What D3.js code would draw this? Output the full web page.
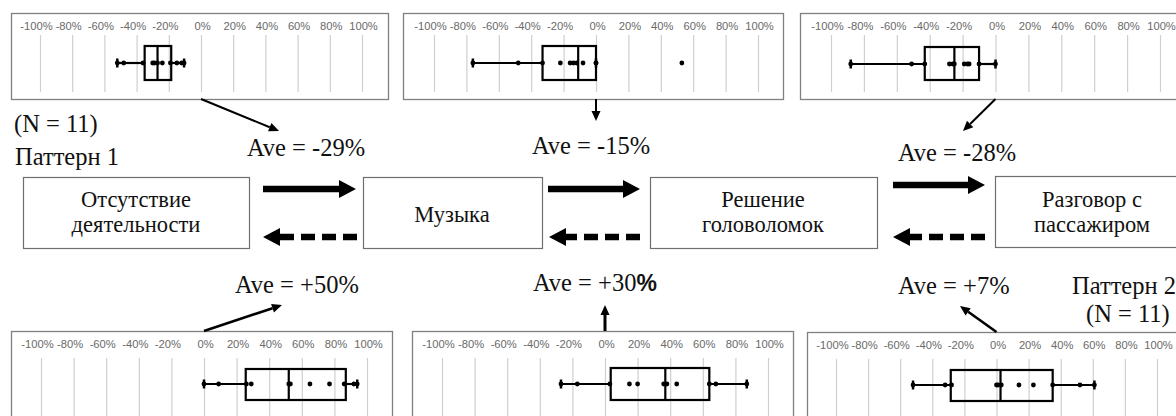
<!DOCTYPE html>
<html>
<head>
<meta charset="utf-8">
<script src="https://cdn.jsdelivr.net/npm/d3@7"></script>
<style>
  html, body { margin: 0; padding: 0; background: #fff; }
  svg { display: block; }
</style>
</head>
<body>
<svg id="chart" width="1176" height="416"></svg>
<script>
// ---------------- DATA ----------------
const tickValues = [-100, -80, -60, -40, -20, 0, 20, 40, 60, 80, 100];
const activities = [
  ["Отсутствие", "деятельности"],
  ["Музыка"],
  ["Решение", "головоломок"],
  ["Разговор с", "пассажиром"]
];
const aveForward = [-29, -15, -28];   // solid arrows (left → right)
const aveBackward = [50, 30, 7];      // dashed arrows (right → left)
// box stats: [min whisker, q1, median, q3, max whisker]
const forwardBox = [
  [-52, -35, -27, -18.5, -10.5],
  [-76, -33, -11, 0, 0],
  [-88, -43, -25, -10, 0]
];
const backwardBox = [
  [0, 25.6, 52, 87, 94],
  [-27, 3.5, 37, 64, 87],
  [-52, -28.5, 2.5, 35, 61]
];
const forwardPoints = [
  [-52, -48, -36, -30, -29, -27, -24, -19, -15, -12, -10.5],
  [-76, -48, -33, -22, -16, -14, -12, -8, 0, 0, 53],
  [-88, -51, -43, -28, -26, -25, -19, -17, -16, -10, 0]
];
const backwardPoints = [
  [0, 9, 26, 29, 52, 53, 65, 77, 86, 92, 94],
  [-27, -17, 3, 15, 20, 36, 38, 44, 64, 68, 87],
  [-52, -32, -28, 0, 1, 3, 14, 23, 35, 52, 61]
];
const nLabel = "(N = 11)";
const patternLabels = ["Паттерн 1", "Паттерн 2"];

// ---------------- LAYOUT ----------------
const svg = d3.select("#chart");
const serif = "'Liberation Serif', 'Times New Roman', serif";
const sans = "'Liberation Sans', Arial, sans-serif";
const FS = 24.5;
const BOX_FS = 22.5;

const topPanels = [
  {x0: 11, x1: 388, y0: 13, y1: 99, r: [40, 362], lab: 30, g0: 35, g1: 92, b0: 46, b1: 80, cy: 63},
  {x0: 403, x1: 783, y0: 13, y1: 99, r: [434, 758], lab: 30, g0: 35, g1: 92, b0: 46, b1: 80, cy: 63},
  {x0: 800, x1: 1195, y0: 13, y1: 99, r: [831, 1160], lab: 30, g0: 35, g1: 92, b0: 47, b1: 80, cy: 64}
];
const botPanels = [
  {x0: 11, x1: 392, y0: 331, y1: 430, r: [41, 367], lab: 348, g0: 358, g1: 430, b0: 369, b1: 400, cy: 384},
  {x0: 412, x1: 793, y0: 331, y1: 430, r: [442, 768], lab: 348, g0: 358, g1: 430, b0: 368, b1: 400, cy: 384},
  {x0: 807, x1: 1195, y0: 332, y1: 430, r: [836, 1157], lab: 349, g0: 359, g1: 430, b0: 370, b1: 401, cy: 385}
];

function drawPanel(p, box, pts) {
  const g = svg.append("g");
  const x = d3.scaleLinear().domain([-100, 100]).range(p.r);
  g.append("rect").attr("x", p.x0 + 0.5).attr("y", p.y0 + 0.5)
    .attr("width", p.x1 - p.x0).attr("height", p.y1 - p.y0)
    .attr("fill", "#fff").attr("stroke", "#808080").attr("stroke-width", 1.3);
  const ax = g.append("g").attr("transform", `translate(0,${p.g1})`)
    .call(d3.axisTop(x).tickValues(tickValues).tickSize(p.g1 - p.g0)
      .tickPadding(p.g0 - p.lab).tickFormat(d => d + "%"));
  ax.select(".domain").remove();
  ax.selectAll(".tick line").attr("stroke", "#cfcfcf").attr("stroke-width", 1.2);
  ax.selectAll(".tick text").attr("fill", "#6a6a6a").attr("font-family", sans)
    .attr("font-size", 11.2).attr("dx", d => d < 0 ? -4 : 1);
  const [mn, q1, md, q3, mx] = box;
  const sw = 2.2;
  g.append("line").attr("x1", x(mn)).attr("x2", x(q1)).attr("y1", p.cy).attr("y2", p.cy)
    .attr("stroke", "#000").attr("stroke-width", sw);
  g.append("line").attr("x1", x(q3)).attr("x2", x(mx)).attr("y1", p.cy).attr("y2", p.cy)
    .attr("stroke", "#000").attr("stroke-width", sw);
  [mn, mx].forEach(v => {
    g.append("line").attr("x1", x(v)).attr("x2", x(v)).attr("y1", p.cy - 4.5).attr("y2", p.cy + 4.5)
      .attr("stroke", "#000").attr("stroke-width", 2.5);
  });
  g.append("rect").attr("x", x(q1)).attr("y", p.b0).attr("width", x(q3) - x(q1))
    .attr("height", p.b1 - p.b0).attr("fill", "none").attr("stroke", "#000").attr("stroke-width", sw);
  g.append("line").attr("x1", x(md)).attr("x2", x(md)).attr("y1", p.b0).attr("y2", p.b1)
    .attr("stroke", "#000").attr("stroke-width", sw);
  g.selectAll("circle.pt").data(pts).enter().append("circle")
    .attr("cx", d => x(d)).attr("cy", p.cy).attr("r", 2.4).attr("fill", "#000");
  return x;
}

const topScales = topPanels.map((p, i) => drawPanel(p, forwardBox[i], forwardPoints[i]));
const botScales = botPanels.map((p, i) => drawPanel(p, backwardBox[i], backwardPoints[i]));

// ---------------- FLOW BOXES ----------------
const flowBoxes = [
  {x0: 23, x1: 249, y0: 177, y1: 248, cx: 136},
  {x0: 363, x1: 542, y0: 177, y1: 248, cx: 452},
  {x0: 650, x1: 877, y0: 177, y1: 248, cx: 763},
  {x0: 995, x1: 1200, y0: 176, y1: 247, cx: 1092}
];
flowBoxes.forEach((b, i) => {
  svg.append("rect").attr("x", b.x0 + 0.5).attr("y", b.y0 + 0.5)
    .attr("width", b.x1 - b.x0).attr("height", b.y1 - b.y0)
    .attr("fill", "#fff").attr("stroke", "#6f6f6f").attr("stroke-width", 1.2);
  const lines = activities[i];
  const base = lines.length === 1 ? [222] : [207, 232];
  lines.forEach((s, j) => {
    svg.append("text").attr("text-anchor", "middle")
      .attr("font-family", serif).attr("font-size", BOX_FS).attr("fill", "#111")
      .attr("x", b.cx).attr("y", base[j]).text(s);
  });
});

// ---------------- BIG ARROWS ----------------
const fwdArrows = [
  {x0: 263, x1: 356, y: 189},
  {x0: 548, x1: 640, y: 189},
  {x0: 893, x1: 985, y: 185}
];
const backArrows = [
  {x0: 357, x1: 263, y: 237},
  {x0: 640, x1: 549, y: 237},
  {x0: 985, x1: 893, y: 237}
];
const headL = 17, headW = 9, shaft = 6.5;
fwdArrows.forEach(a => {
  svg.append("line").attr("x1", a.x0).attr("x2", a.x1 - headL + 1).attr("y1", a.y).attr("y2", a.y)
    .attr("stroke", "#000").attr("stroke-width", shaft);
  svg.append("path").attr("d", `M${a.x1},${a.y} L${a.x1 - headL},${a.y - headW} L${a.x1 - headL},${a.y + headW} Z`)
    .attr("fill", "#000");
});
backArrows.forEach(a => {
  svg.append("line").attr("x1", a.x0).attr("x2", a.x1 + headL - 1).attr("y1", a.y).attr("y2", a.y)
    .attr("stroke", "#000").attr("stroke-width", shaft).attr("stroke-dasharray", "14,7");
  svg.append("path").attr("d", `M${a.x1},${a.y} L${a.x1 + headL},${a.y - headW} L${a.x1 + headL},${a.y + headW} Z`)
    .attr("fill", "#000");
});

// ---------------- AVE LABELS ----------------
const fmt = v => (v > 0 ? "+" : "") + v;
const aveFwdPos = [{x: 247, y: 156}, {x: 532, y: 154}, {x: 898, y: 161}];
const aveBackPos = [{x: 235, y: 293}, {x: 533, y: 291}, {x: 898, y: 294}];
aveForward.forEach((v, i) => {
  svg.append("text").attr("x", aveFwdPos[i].x).attr("y", aveFwdPos[i].y)
    .attr("font-family", serif).attr("font-size", FS).attr("fill", "#111")
    .text("Ave = " + fmt(v) + "%");
});
aveBackward.forEach((v, i) => {
  const t = svg.append("text").attr("x", aveBackPos[i].x).attr("y", aveBackPos[i].y)
    .attr("font-family", serif).attr("font-size", FS).attr("fill", "#111");
  t.append("tspan").text("Ave = " + fmt(v));
  if (i === 1) {
    t.append("tspan").attr("font-family", sans).attr("font-weight", "bold").attr("font-size", 23).text("%");
  } else {
    t.append("tspan").text("%");
  }
});

// ---------------- CONNECTOR ARROWS ----------------
function thinArrow(x0, y0, x1, y1, w) {
  const ang = Math.atan2(y1 - y0, x1 - x0);
  const L = 10, W = 4.5;
  const bx = x1 - L * Math.cos(ang), by = y1 - L * Math.sin(ang);
  svg.append("line").attr("x1", x0).attr("y1", y0).attr("x2", bx).attr("y2", by)
    .attr("stroke", "#000").attr("stroke-width", w);
  const px = -Math.sin(ang) * W, py = Math.cos(ang) * W;
  svg.append("path").attr("d", `M${x1},${y1} L${bx + px},${by + py} L${bx - px},${by - py} Z`).attr("fill", "#000");
}
const topTargets = [{x: 279, y: 131}, {x: null, y: 121}, {x: 963, y: 131}];
const botTargets = [{x: 282, y: 305}, {x: null, y: 305}, {x: 960, y: 306}];
topPanels.forEach((p, i) => {
  const sx = topScales[i](0);
  const t = topTargets[i];
  thinArrow(sx, p.y1, t.x === null ? sx : t.x, t.y, 2);
});
botPanels.forEach((p, i) => {
  const sx = botScales[i](0);
  const t = botTargets[i];
  thinArrow(sx, p.y0, t.x === null ? sx : t.x, t.y, i === 1 ? 3 : 2.6);
});

// ---------------- PATTERN LABELS ----------------
svg.append("text").attr("x", 14).attr("y", 132).attr("font-family", serif).attr("font-size", FS)
  .attr("fill", "#111").text(nLabel);
svg.append("text").attr("x", 15).attr("y", 165).attr("font-family", serif).attr("font-size", FS)
  .attr("fill", "#111").text(patternLabels[0]);
svg.append("text").attr("x", 1072).attr("y", 294).attr("font-family", serif).attr("font-size", FS)
  .attr("fill", "#111").text(patternLabels[1]);
svg.append("text").attr("x", 1086).attr("y", 322).attr("font-family", serif).attr("font-size", FS)
  .attr("fill", "#111").text(nLabel);
</script>
</body>
</html>
